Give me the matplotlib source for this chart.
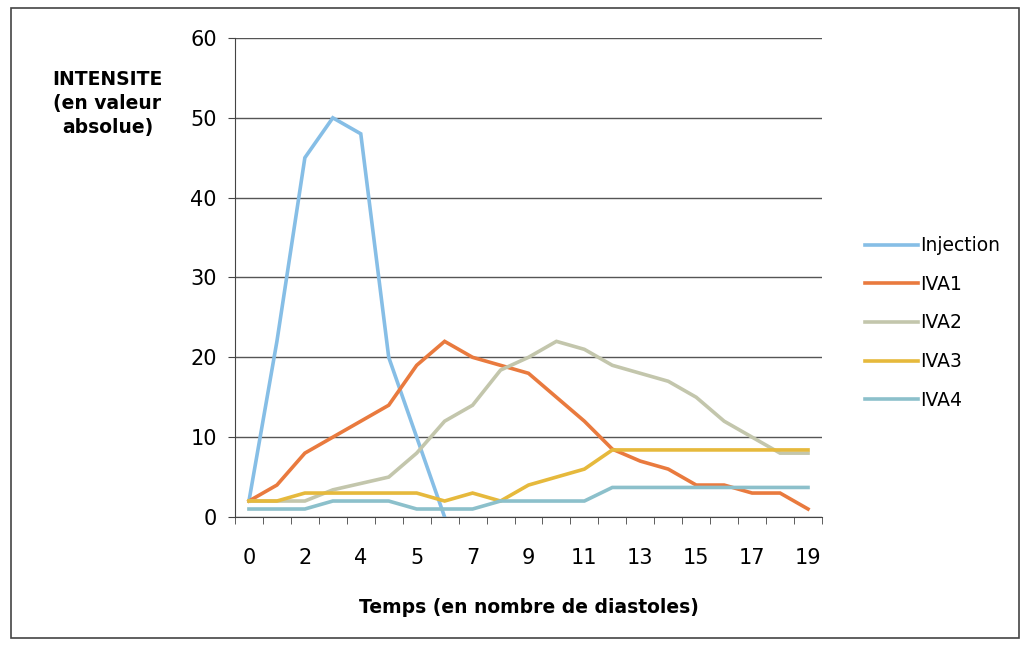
import matplotlib
matplotlib.use('Agg')
import matplotlib.pyplot as plt
from matplotlib.patches import Rectangle

# categories (21 points, label shown every other one)
categories = ['0', '1', '2', '3', '4', '4', '5', '6', '7', '8', '9', '10',
              '11', '12', '13', '14', '15', '16', '17', '18', '19']

injection = [2, 22, 45, 50, 48, 20, 10, 0]
iva1 = [2, 4, 8, 10, 12, 14, 19, 22, 20, 19, 18, 15, 12, 8.5, 7, 6, 4, 4, 3, 3, 1]
iva2 = [2, 2, 2, 3.4, 4.2, 5, 8, 12, 14, 18.4, 20, 22, 21, 19, 18, 17, 15, 12, 10, 8, 8]
iva3 = [2, 2, 3, 3, 3, 3, 3, 2, 3, 2, 4, 5, 6, 8.4, 8.4, 8.4, 8.4, 8.4, 8.4, 8.4, 8.4]
iva4 = [1, 1, 1, 2, 2, 2, 1, 1, 1, 2, 2, 2, 2, 3.7, 3.7, 3.7, 3.7, 3.7, 3.7, 3.7, 3.7]

SERIES = [
    ('Injection', injection, '#86BEE6'),
    ('IVA1', iva1, '#E97A3E'),
    ('IVA2', iva2, '#C3C6AC'),
    ('IVA3', iva3, '#E6B93C'),
    ('IVA4', iva4, '#8CC0CB'),
]

plt.rcParams['font.family'] = ['DejaVu Sans']

fig = plt.figure(figsize=(10.23, 6.46), dpi=100)
ax = fig.add_axes([0.2297, 0.1997, 0.5738, 0.7415])

for name, vals, col in SERIES:
    ax.plot(range(len(vals)), vals, color=col, linewidth=2.6, label=name,
            solid_joinstyle='miter')

ax.set_xlim(-0.5, len(categories) - 0.5)
ax.set_ylim(0, 60)
ax.set_yticks(range(0, 61, 10))
ax.tick_params(axis='y', labelsize=15, length=5, color='#444444', pad=8)

ax.set_xticks(range(0, len(categories), 2))
ax.set_xticklabels(categories[::2], fontsize=15)
ax.set_xticks([i - 0.5 for i in range(len(categories) + 1)], minor=True)
ax.tick_params(axis='x', which='major', length=0, pad=22)
ax.tick_params(axis='x', which='minor', length=5, color='#444444')

ax.grid(axis='y', color='#555555', linewidth=1.0)
ax.set_axisbelow(True)
for s in ['top', 'right']:
    ax.spines[s].set_visible(False)
ax.spines['left'].set_color('#444444')
ax.spines['bottom'].set_color('#444444')

ax.set_xlabel('Temps (en nombre de diastoles)', fontsize=13.5, fontweight='bold',
              labelpad=22)
fig.text(0.105, 0.84, 'INTENSITE\n(en valeur\nabsolue)', fontsize=13.5,
         fontweight='bold', ha='center', va='center', linespacing=1.35)

ax.legend(loc='center left', bbox_to_anchor=(1.045, 0.405), frameon=False,
          fontsize=13.5, handlelength=2.8, handletextpad=0.1, labelspacing=1.05)

fig.patches.append(Rectangle((0.011, 0.012), 0.985, 0.975, transform=fig.transFigure,
                             fill=False, edgecolor='#444444', linewidth=1.2))

fig.savefig('out.png', dpi=100)
